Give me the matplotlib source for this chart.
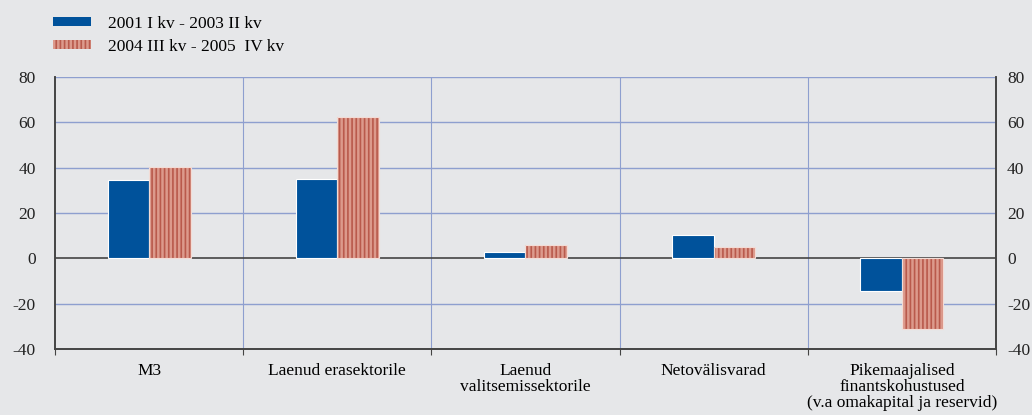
import matplotlib
matplotlib.use("Agg")
import matplotlib.pyplot as plt
import numpy as np
from matplotlib.patches import Rectangle

categories = [
    "M3",
    "Laenud erasektorile",
    "Laenud\nvalitsemissektorile",
    "Netovälisvarad",
    "Pikemaajalised\nfinantskohustused\n(v.a omakapital ja reservid)",
]
series_labels = ["2001 I kv - 2003 II kv", "2004 III kv - 2005  IV kv"]
period1 = [34.5, 35.0, 3.0, 10.5, -14.5]
period2 = [40.5, 62.5, 6.0, 4.8, -31.0]
y_ticks = [-40, -20, 0, 20, 40, 60, 80]

BG = "#e6e7e9"
BLUE = "#00529b"
SALMON = "#dc9a8c"
STRIPE = "#b95a4c"
GRID = "#8e9fcf"

plt.rcParams["font.family"] = ["Liberation Serif", "DejaVu Serif"]
plt.rcParams["axes.unicode_minus"] = False
plt.rcParams["hatch.linewidth"] = 1.2
plt.rcParams["hatch.color"] = STRIPE

fig = plt.figure(figsize=(10.32, 4.15), dpi=100, facecolor=BG)
ax = fig.add_axes([55 / 1032, 1 - 349 / 415, (996 - 55) / 1032, (349 - 77) / 415])
ax.set_facecolor(BG)

x = np.arange(len(categories))
w = 0.22
ax.bar(x - w / 2, period1, width=w, color=BLUE, edgecolor="white", linewidth=0.8, zorder=3)
ax.bar(x + w / 2, period2, width=w, color=SALMON, edgecolor=STRIPE, hatch="||||",
       linewidth=0, zorder=3)
ax.bar(x + w / 2, period2, width=w, color="none", edgecolor="#f3dcd6", linewidth=0.8, zorder=4)

ax.set_xlim(-0.5, len(categories) - 0.5)
ax.set_ylim(-40, 80)
ax.set_yticks(y_ticks)
for yv in y_ticks[1:]:
    if yv == 0:
        continue
    ax.axhline(yv, color=GRID, lw=1.0, zorder=1)
for xv in np.arange(0.5, len(categories) - 0.5, 1.0):
    ax.axvline(xv, color=GRID, lw=0.8, zorder=1)
ax.axhline(0, color="#444444", lw=1.2, zorder=2)

ax.set_xticks(np.arange(-0.5, len(categories), 1.0))
ax.set_xticklabels([])
ax.set_xticks(x, minor=True)
ax.set_xticklabels(categories, minor=True, fontsize=12.5, linespacing=1.0)
ax.tick_params(axis="x", which="major", direction="out", length=4, color="#444444")
ax.tick_params(axis="x", which="minor", length=0, pad=10)
ax.tick_params(axis="y", length=0, labelsize=12.5, pad=14, labelcolor="#222222")

# right-hand copy of the value axis
ax_r = ax.twinx()
ax_r.set_ylim(ax.get_ylim())
ax_r.set_yticks(y_ticks)
ax_r.tick_params(axis="y", length=0, labelsize=12.5, pad=8, labelcolor="#222222")

for a in (ax, ax_r):
    for s in ["left", "right", "bottom"]:
        a.spines[s].set_color("#444444")
        a.spines[s].set_linewidth(1.2)
    a.spines["top"].set_visible(False)

handles = [
    Rectangle((0, 0), 1, 1, facecolor=BLUE, edgecolor="none"),
    Rectangle((0, 0), 1, 1, facecolor=SALMON, edgecolor=STRIPE, hatch="||||", linewidth=0),
]
fig.legend(handles, series_labels, loc="upper left", bbox_to_anchor=(0.036, 1.0),
           frameon=False, fontsize=12.5, handlelength=2.2, handleheight=0.4,
           handletextpad=1.0, labelspacing=0.4)

fig.savefig("out.png", dpi=100, facecolor=BG)
